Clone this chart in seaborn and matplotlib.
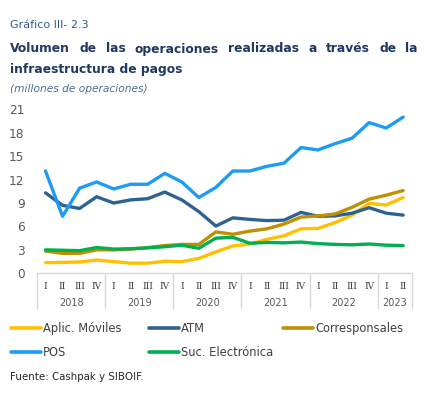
import numpy as np
import pandas as pd
import matplotlib
matplotlib.use("Agg")
import matplotlib.pyplot as plt
import matplotlib.transforms as mtransforms
import seaborn as sns

# ---------------- data ----------------
quarters = ["I", "II", "III", "IV"] * 5 + ["I", "II"]
years = ["2018", "2019", "2020", "2021", "2022", "2023"]
year_sizes = [4, 4, 4, 4, 4, 2]

aplic_moviles = [1.36, 1.4, 1.45, 1.7, 1.5, 1.3, 1.3, 1.55, 1.5, 1.9, 2.75,
                 3.5, 3.75, 4.35, 4.8, 5.7, 5.75, 6.5, 7.45, 8.95, 8.75, 9.7]
atm = [10.3, 8.7, 8.3, 9.8, 9.0, 9.4, 9.55, 10.4, 9.4, 7.9, 6.05,
       7.1, 6.9, 6.75, 6.8, 7.8, 7.3, 7.35, 7.7, 8.4, 7.7, 7.45]
corresponsales = [2.85, 2.55, 2.55, 3.0, 3.0, 3.1, 3.3, 3.55, 3.7, 3.7, 5.3,
                  5.0, 5.4, 5.7, 6.3, 7.2, 7.35, 7.6, 8.45, 9.5, 10.0, 10.6]
pos = [13.1, 7.3, 10.9, 11.7, 10.8, 11.4, 11.4, 12.8, 11.7, 9.7, 11.0,
       13.1, 13.1, 13.7, 14.1, 16.1, 15.8, 16.6, 17.3, 19.3, 18.6, 20.0]
suc_electronica = [3.0, 2.95, 2.9, 3.3, 3.1, 3.15, 3.25, 3.4, 3.6, 3.2, 4.5,
                   4.6, 3.85, 3.95, 3.9, 4.0, 3.8, 3.7, 3.65, 3.75, 3.6, 3.55]

series_names = ["Aplic. Móviles", "ATM", "Corresponsales", "POS", "Suc. Electrónica"]
series_values = [aplic_moviles, atm, corresponsales, pos, suc_electronica]
colors = ["#FFC000", "#2E6390", "#BF9000", "#1E9BF5", "#00B050"]

rows = []
for name, vals in zip(series_names, series_values):
    for i, v in enumerate(vals):
        rows.append({"t": i, "valor": v, "serie": name})
df = pd.DataFrame(rows)

# ---------------- figure ----------------
sns.set_theme(style="white")
plt.rcParams["font.family"] = ["DejaVu Sans"]

W, H = 428, 395
fig = plt.figure(figsize=(W / 100, H / 100), dpi=100)
ax = fig.add_axes([37 / W, 1 - 273.3 / H, (411.7 - 37) / W, (273.3 - 109.3) / H])

sns.lineplot(data=df, x="t", y="valor", hue="serie", hue_order=series_names,
             palette=dict(zip(series_names, colors)), linewidth=2.4, ax=ax,
             legend=True)

ax.set_xlim(-0.5, len(quarters) - 0.5)
ax.set_ylim(0, 21)
ax.set_yticks(np.arange(0, 22, 3))
ax.set_yticklabels([str(v) for v in range(0, 22, 3)], fontsize=8.7, color="#595959")
ax.tick_params(axis="y", length=0, pad=9)
ax.set_xticks(range(len(quarters)))
ax.set_xticklabels(quarters, fontsize=6.5, color="#404040", family="DejaVu Serif")
ax.tick_params(axis="x", length=0, pad=6)
ax.set_xlabel("")
ax.set_ylabel("")
for s in ["top", "right", "left"]:
    ax.spines[s].set_visible(False)
ax.spines["bottom"].set_color("#D9D9D9")
ax.spines["bottom"].set_linewidth(1)

# year group labels and separators
trans = mtransforms.blended_transform_factory(ax.transData, ax.transAxes)
start = 0
bounds = [-0.5]
for y, n in zip(years, year_sizes):
    center = start + (n - 1) / 2
    ax.text(center, -0.183, y, transform=trans, ha="center", va="center",
            fontsize=7, color="#595959")
    start += n
    bounds.append(start - 0.5)
for b in bounds:
    ax.axvline(b, ymin=-0.213, ymax=0, color="#D9D9D9", lw=1, clip_on=False)

# legends (row-major layout like reference)
handles, labels = ax.get_legend_handles_labels()
ax.get_legend().remove()
leg_kw = dict(frameon=False, fontsize=8.3, handlelength=2.6, handletextpad=0.2,
              labelspacing=0.95, borderpad=0, borderaxespad=0, loc="upper left")
order = [0, 3, 1, 4]
leg1 = fig.legend([handles[i] for i in order], [labels[i] for i in order],
                  bbox_to_anchor=(11 / W, 1 - 322 / H), ncol=2,
                  columnspacing=2.35, **leg_kw)
leg2 = fig.legend([handles[2]], [labels[2]],
                  bbox_to_anchor=(283 / W, 1 - 322 / H), ncol=1, **leg_kw)
for leg in (leg1, leg2):
    for t in leg.get_texts():
        t.set_color("#404040")
    for h in leg.legend_handles:
        h.set_linewidth(2.6)

# titles
fig.text(10 / W, 1 - 25 / H, "Gráfico III- 2.3", fontsize=8, color="#2E5C8A",
         va="center", ha="left")

title_color = "#1F3864"
line1 = "Volumen de las operaciones realizadas a través de la".split()
x_left, x_right = 10, 418
fig.canvas.draw()
renderer = fig.canvas.get_renderer()
texts = []
widths = []
for w in line1:
    t = fig.text(0, 1 - 49 / H, w, fontsize=8.8, fontweight="bold",
                 color=title_color, va="center", ha="left")
    texts.append(t)
    widths.append(t.get_window_extent(renderer).width)
gap = (x_right - x_left - sum(widths)) / (len(line1) - 1)
x = x_left
for t, wd in zip(texts, widths):
    t.set_x(x / W)
    x += wd + gap
fig.text(x_left / W, 1 - 69 / H, "infraestructura de pagos", fontsize=8.8,
         fontweight="bold", color=title_color, va="center", ha="left")
fig.text(x_left / W, 1 - 89 / H, "(millones de operaciones)", fontsize=7.7,
         style="italic", color="#4A6E92", va="center", ha="left")

fig.text(x_left / W, 1 - 377 / H, "Fuente: Cashpak y SIBOIF.", fontsize=7.4,
         color="#262626", va="center", ha="left")

fig.savefig("out.png", dpi=100)
